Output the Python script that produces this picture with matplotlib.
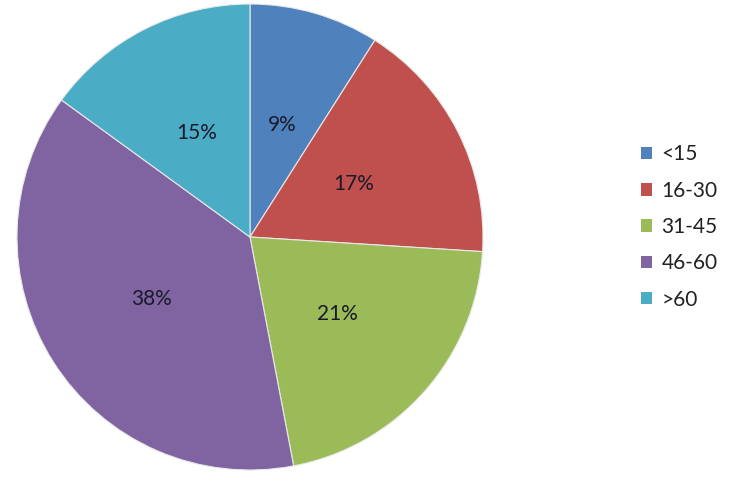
import matplotlib.pyplot as plt
from matplotlib.patches import Patch

labels = ['<15', '16-30', '31-45', '46-60', '>60']
shares = [9, 17, 21, 38, 15]
colors = ['#4F81BD', '#C0504D', '#9BBB59', '#8064A2', '#4BACC6']

plt.rcParams['font.family'] = ['Lato', 'DejaVu Sans']

fig = plt.figure(figsize=(7.38, 4.83), dpi=100)
ax = fig.add_axes([17 / 738, 13 / 483, 466 / 738, 466 / 483])

wedges, texts, autotexts = ax.pie(
    shares, colors=colors, startangle=90, counterclock=False,
    autopct='%d%%', pctdistance=0.5, radius=1,
    wedgeprops=dict(edgecolor='#e8e8e8', linewidth=0.8),
    textprops=dict(fontsize=15, color='#1a1a2a'))
ax.set_xlim(-1, 1)
ax.set_ylim(-1, 1)
ax.set_aspect('equal')

handles = [Patch(facecolor=c, edgecolor='none') for c in colors]
fig.legend(handles, labels, loc='center left',
           bbox_to_anchor=(622 / 738, 1 - 227 / 483), frameon=False,
           fontsize=15, handlelength=0.55, handleheight=0.55,
           handletextpad=0.45, labelspacing=0.78, labelcolor='#222222')

fig.savefig('out.png', dpi=100)
